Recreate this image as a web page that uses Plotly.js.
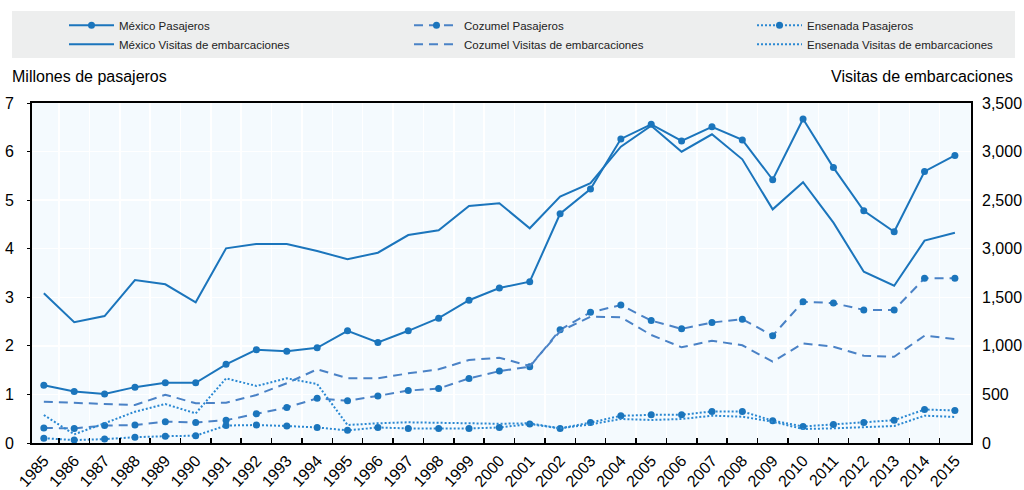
<!DOCTYPE html>
<html>
<head>
<meta charset="utf-8">
<script src="https://cdn.plot.ly/plotly-3.0.1.min.js"></script>
<style>html,body{margin:0;padding:0;background:#fff;}#chart{width:1024px;height:490px;}</style>
</head>
<body>
<div id="chart"></div>
<script>
const years = ["1985","1986","1987","1988","1989","1990","1991","1992","1993","1994","1995","1996","1997","1998","1999","2000","2001","2002","2003","2004","2005","2006","2007","2008","2009","2010","2011","2012","2013","2014","2015"];

// Pasajeros (millones)
const mexicoPasajeros   = [1.19,1.06,1.01,1.15,1.24,1.24,1.62,1.92,1.89,1.96,2.31,2.07,2.31,2.57,2.94,3.19,3.32,4.72,5.23,6.26,6.56,6.22,6.51,6.24,5.42,6.67,5.67,4.78,4.35,5.59,5.92];
const cozumelPasajeros  = [0.31,0.30,0.36,0.37,0.44,0.42,0.47,0.60,0.73,0.92,0.87,0.97,1.08,1.12,1.33,1.48,1.57,2.33,2.69,2.84,2.52,2.35,2.48,2.55,2.21,2.91,2.88,2.74,2.74,3.39,3.39];
const ensenadaPasajeros = [0.10,0.06,0.08,0.12,0.14,0.15,0.36,0.37,0.35,0.32,0.26,0.32,0.30,0.30,0.30,0.32,0.39,0.30,0.42,0.56,0.58,0.58,0.65,0.65,0.46,0.34,0.38,0.42,0.47,0.69,0.67];

// Visitas de embarcaciones
const mexicoVisitas   = [1541,1243,1307,1678,1634,1448,2004,2049,2049,1977,1891,1959,2141,2190,2440,2468,2210,2536,2674,3050,3266,2999,3178,2920,2405,2684,2268,1763,1619,2083,2165];
const cozumelVisitas  = [425,415,401,391,497,409,415,494,615,759,666,666,717,759,854,878,793,1150,1300,1294,1112,985,1053,1006,837,1026,991,899,888,1105,1071];
const ensenadaVisitas = [288,89,203,322,401,305,666,587,666,607,185,203,213,208,203,198,203,151,192,247,237,247,281,271,219,144,151,162,175,281,268];

const leftTicks = [0,1,2,3,4,5,6,7];
const rightTickVals = [0,500,1000,1500,2000,2500,3000,3500];
const rightTickText = ["0","500","1,000","1,500","3,000","2,500","3,000","3,500"];

const cMex = "#1B75BC", cCoz = "#4A82C6", cEns = "#2A88D2";
const FONT = "'Liberation Sans Narrow','Arial Narrow','Liberation Sans',Arial,sans-serif";

const traces = [
  {name:"México Pasajeros", legend:"legend", x:years, y:mexicoPasajeros, yaxis:"y", mode:"lines+markers",
   line:{color:cMex,width:2}, marker:{color:cMex,size:7}},
  {name:"México Visitas de embarcaciones", legend:"legend", x:years, y:mexicoVisitas, yaxis:"y2", mode:"lines",
   line:{color:cMex,width:2}},
  {name:"Cozumel Pasajeros", legend:"legend2", x:years, y:cozumelPasajeros, yaxis:"y", mode:"lines+markers",
   line:{color:cCoz,width:2,dash:"9px,6px"}, marker:{color:cMex,size:7}},
  {name:"Cozumel Visitas de embarcaciones", legend:"legend2", x:years, y:cozumelVisitas, yaxis:"y2", mode:"lines",
   line:{color:cCoz,width:2,dash:"9px,6px"}},
  {name:"Ensenada Pasajeros", legend:"legend3", x:years, y:ensenadaPasajeros, yaxis:"y", mode:"lines+markers",
   line:{color:cEns,width:2,dash:"2px,2px"}, marker:{color:cMex,size:7}},
  {name:"Ensenada Visitas de embarcaciones", legend:"legend3", x:years, y:ensenadaVisitas, yaxis:"y2", mode:"lines",
   line:{color:cEns,width:2,dash:"2px,2px"}}
];

function leg(x){
  return {orientation:"h", xref:"container", yref:"container", x:x, y:0.978, xanchor:"left", yanchor:"top",
          bgcolor:"rgba(0,0,0,0)", font:{size:11.5, family:FONT, color:"#222"}, tracegroupgap:0, traceorder:"normal",
          entrywidth:500, entrywidthmode:"pixels", itemwidth:45};
}

const layout = {
  width:1024, height:490,
  margin:{l:32, r:53, t:103, b:47, pad:0},
  paper_bgcolor:"#ffffff", plot_bgcolor:"#F4FAFE",
  font:{family:FONT, color:"#000", size:14},
  showlegend:true,
  legend:leg(0.0625), legend2:leg(0.3994), legend3:leg(0.7344),
  xaxis:{type:"category", range:[-0.39,30.53], tickson:"boundaries", ticks:"inside", ticklen:5, tickcolor:"#000", tickwidth:1.5,
         showgrid:true, gridcolor:"#ffffff", gridwidth:1.5, tickangle:-48, tickfont:{size:16, family:FONT},
         showline:true, mirror:true, linecolor:"#000", linewidth:2, automargin:false, fixedrange:true},
  yaxis:{range:[0,7], tickvals:leftTicks, ticks:"outside", ticklen:3, tickcolor:"#000", ticklabelstandoff:10,
         showgrid:true, gridcolor:"#ffffff", gridwidth:1.5, zeroline:false, tickfont:{size:16, family:FONT},
         showline:true, mirror:true, linecolor:"#000", linewidth:2, automargin:false, fixedrange:true},
  yaxis2:{range:[0,3500], overlaying:"y", side:"right", tickvals:rightTickVals, ticktext:rightTickText,
          ticks:"", showgrid:false, zeroline:false, showline:false, ticklabelstandoff:10,
          tickfont:{size:16, family:FONT}, automargin:false, fixedrange:true},
  shapes:[{type:"rect", xref:"paper", yref:"paper", x0:-0.0213, x1:1.0469, y0:1.1324, y1:1.2706,
           fillcolor:"#EDEEEE", line:{width:0}, layer:"below"}],
  annotations:[
    {text:"Millones de pasajeros", xref:"paper", yref:"paper", x:-0.0234, y:1.0765, xanchor:"left", yanchor:"middle",
     showarrow:false, font:{size:16, family:FONT, color:"#000"}},
    {text:"Visitas de embarcaciones", xref:"paper", yref:"paper", x:1.0469, y:1.0765, xanchor:"right", yanchor:"middle",
     showarrow:false, font:{size:16, family:FONT, color:"#000"}}
  ]
};

Plotly.newPlot("chart", traces, layout, {displayModeBar:false, staticPlot:true});
</script>
</body>
</html>
